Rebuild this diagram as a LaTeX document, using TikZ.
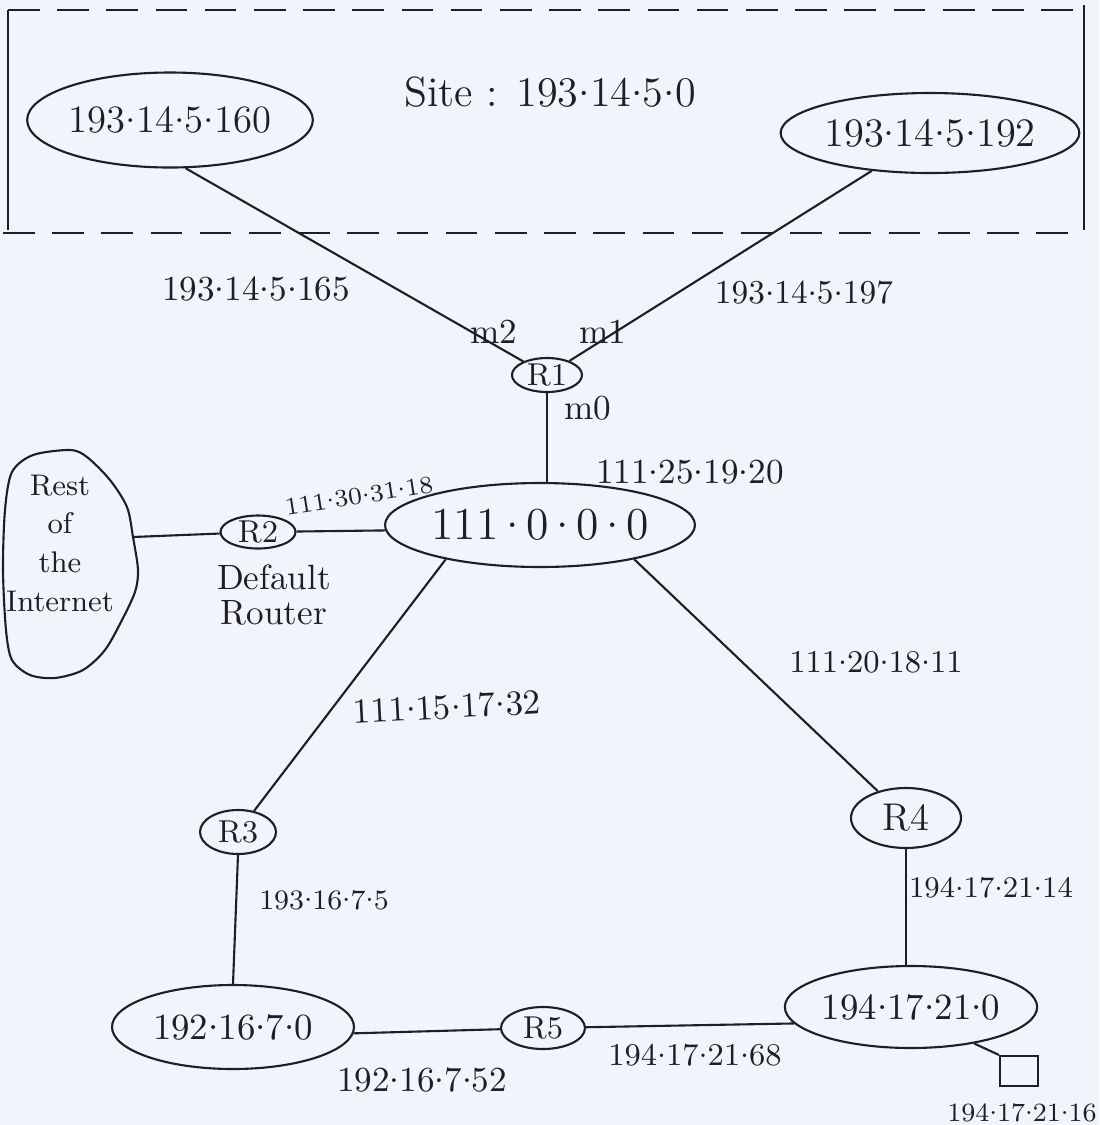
\documentclass[tikz,border=0pt]{standalone}
\usepackage{tikz}
\usetikzlibrary{shapes.geometric}
\definecolor{paper}{RGB}{241,244,251}
\definecolor{ink}{RGB}{30,30,36}
\newcommand{\ipd}{\raisebox{0.6ex}{.}}

\begin{document}
\begin{tikzpicture}[x=1cm,y=-1cm,
 net/.style={ellipse,draw=ink,semithick,inner sep=0pt,text=ink,font=\fontsize{11}{13}\selectfont},
 rtr/.style={ellipse,draw=ink,semithick,inner sep=0pt,text=ink,font=\fontsize{9}{11}\selectfont},
 addr/.style={text=ink,inner sep=1pt,font=\fontsize{10}{12}\selectfont},
 wire/.style={ink,semithick},
 fence/.style={ink,semithick,dash pattern=on 9pt off 5pt}]
\fill[paper] (0,0) rectangle (10.99,11.25);
\useasboundingbox (0,0) rectangle (10.99,11.25);
\draw[fence] (0.08,0.10)--(10.84,0.10);
\draw[fence] (0.03,2.33)--(10.84,2.33);
\draw[wire] (0.08,0.10)--(0.08,2.30);
\draw[wire] (10.84,0.05)--(10.84,2.30);
\node[text=ink,font=\fontsize{12}{14}\selectfont] (site) at (5.50,0.92) {Site : 193\ipd 14\ipd 5\ipd 0};
\node[net,minimum width=2.70cm,minimum height=0.95cm] (s160) at (1.70,1.20) {193\ipd 14\ipd 5\ipd 160};
\node[net,minimum width=2.84cm,minimum height=0.80cm,font=\fontsize{11.5}{13}\selectfont] (s192) at (9.30,1.33) {193\ipd 14\ipd 5\ipd 192};
\node[rtr,minimum width=0.70cm,minimum height=0.34cm] (r1) at (5.47,3.75) {R1};
\node[net,minimum width=3.10cm,minimum height=0.84cm,font=\fontsize{13}{15}\selectfont] (n111) at (5.40,5.25) {111\,\ipd\,0\,\ipd\,0\,\ipd\,0};
\node[rtr,minimum width=0.75cm,minimum height=0.33cm] (r2) at (2.58,5.32) {R2};
\node[rtr,minimum width=0.76cm,minimum height=0.44cm] (r3) at (2.38,8.32) {R3};
\node[rtr,minimum width=1.10cm,minimum height=0.60cm,font=\fontsize{11}{13}\selectfont] (r4) at (9.06,8.18) {R4};
\node[net,minimum width=2.42cm,minimum height=0.84cm,font=\fontsize{10.5}{12}\selectfont] (n192) at (2.33,10.27) {192\ipd 16\ipd 7\ipd 0};
\node[rtr,minimum width=0.84cm,minimum height=0.42cm] (r5) at (5.43,10.28) {R5};
\node[net,minimum width=2.32cm,minimum height=0.82cm,font=\fontsize{10.5}{12}\selectfont] (n194) at (9.11,10.07) {194\ipd 17\ipd 21\ipd 0};
\node[draw=ink,semithick,minimum width=0.38cm,minimum height=0.30cm,inner sep=0pt] (host) at (10.19,10.71) {};
\draw[wire] plot[smooth cycle] coordinates {(0.12,4.72) (0.33,4.55) (0.70,4.50) (0.87,4.57) (1.10,4.80) (1.27,5.07) (1.33,5.37) (1.38,5.70) (1.35,5.92) (1.22,6.20) (1.05,6.50) (0.83,6.70) (0.55,6.78) (0.30,6.75) (0.12,6.60) (0.06,6.30) (0.03,5.70) (0.05,5.10)};
\coordinate (inetR) at (1.33,5.37);
\node[text=ink,align=center,font=\fontsize{8.5}{11}\selectfont] (inet) at (0.60,5.43) {Rest\\of\\the\\Internet};
\foreach \a/\b in {s160.-72/r1,s192.-147/r1,inetR/r2,r2/n111.182,n111.-160/r3,n111.-20/r4,r3.south/n192.north,n192.-3/r5,r5/n194.188,n194.-30/host.north west}
 \draw[wire] (\a)--(\b);
\draw[wire] (r1)--(r1 |- n111.north);
\draw[wire] (r4)--(r4 |- n194.north);
\node[addr] (l165) at (2.56,2.89) {193\ipd 14\ipd 5\ipd 165};
\node[addr,font=\fontsize{9.5}{11}\selectfont] (l197) at (8.04,2.93) {193\ipd 14\ipd 5\ipd 197};
\node[addr] (m2) at (4.94,3.32) {m2};
\node[addr] (m1) at (6.03,3.32) {m1};
\node[addr] (m0) at (5.88,4.08) {m0};
\node[addr] (l1920) at (6.90,4.72) {111\ipd 25\ipd 19\ipd 20};
\node[addr,rotate=9,font=\fontsize{7}{8}\selectfont] (l3118) at (3.59,4.96) {111\ipd 30\ipd 31\ipd 18};
\node[addr,align=center,inner sep=0pt] (dflt) at (2.74,5.95) {Default\\[-2pt]Router};
\node[addr,rotate=3] (l1732) at (4.47,7.07) {111\ipd 15\ipd 17\ipd 32};
\node[addr,font=\fontsize{9}{11}\selectfont] (l1811) at (8.76,6.62) {111\ipd 20\ipd 18\ipd 11};
\node[addr,font=\fontsize{8.5}{10}\selectfont] (l2114) at (9.91,8.88) {194\ipd 17\ipd 21\ipd 14};
\node[addr,font=\fontsize{8}{10}\selectfont] (l1675) at (3.24,9.00) {193\ipd 16\ipd 7\ipd 5};
\node[addr] (l1652) at (4.22,10.80) {192\ipd 16\ipd 7\ipd 52};
\node[addr,font=\fontsize{9}{11}\selectfont] (l2168) at (6.95,10.55) {194\ipd 17\ipd 21\ipd 68};
\node[addr,font=\fontsize{7.5}{9}\selectfont] (l2116) at (10.22,11.13) {194\ipd 17\ipd 21\ipd 16};
\end{tikzpicture}
\end{document}
